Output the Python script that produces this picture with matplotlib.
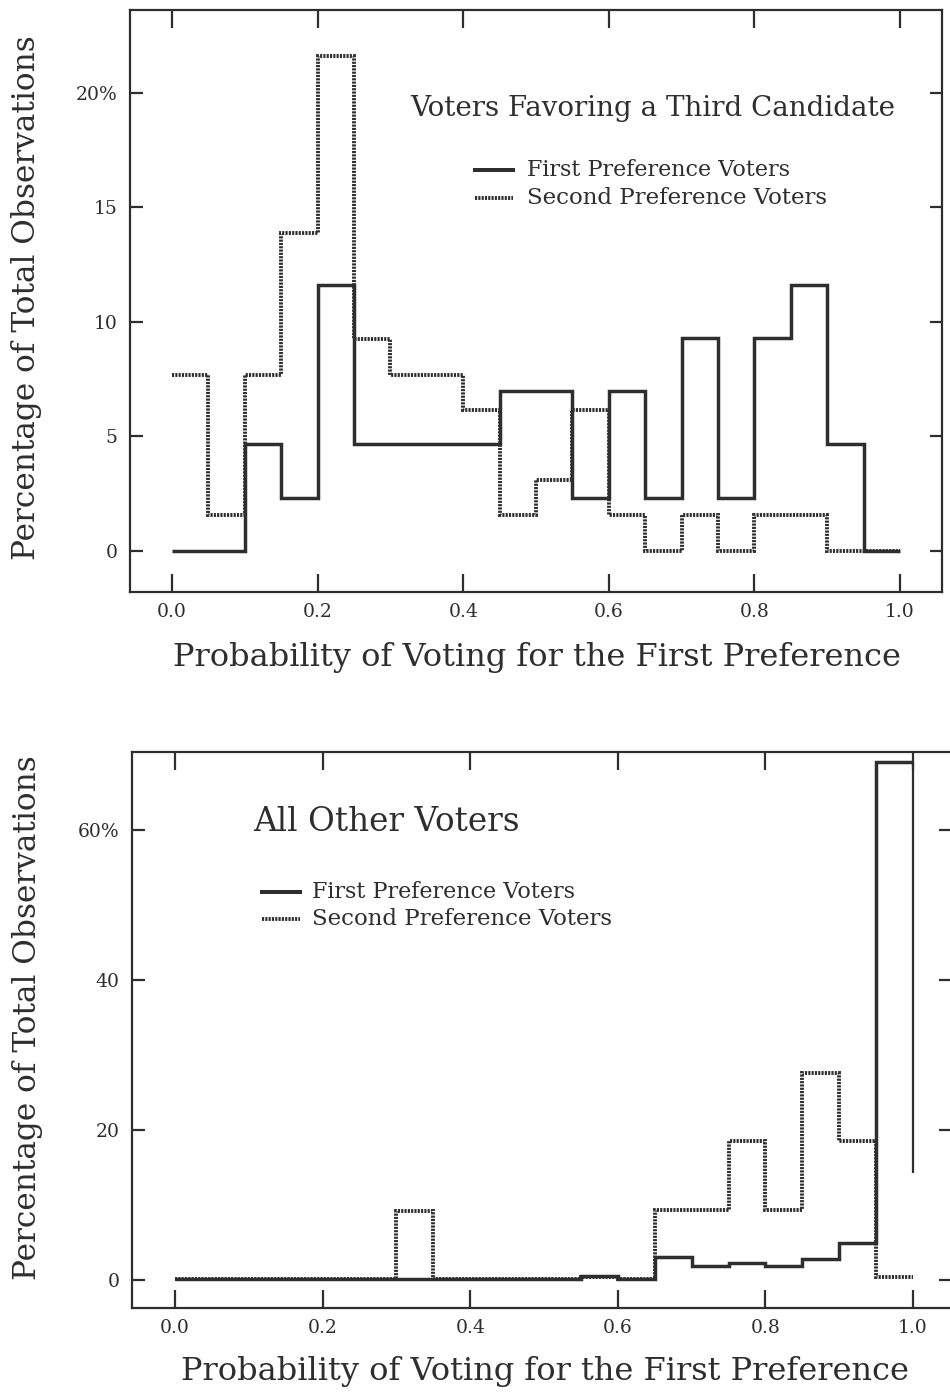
import numpy as np
import matplotlib
matplotlib.use("Agg")
import matplotlib.pyplot as plt
from matplotlib.lines import Line2D

plt.rcParams["font.family"] = ["DejaVu Serif"]

INK = "#2e2e2e"

# Bin edges shared by both histograms (width 0.05)
edges = np.round(np.arange(0, 1.0001, 0.05), 2)

# Upper panel: voters favoring a third candidate (% of observations)
third_first = [0, 0, 4.65, 2.33, 11.6, 4.65, 4.65, 4.65, 4.65, 6.98,
               6.98, 2.33, 6.98, 2.33, 9.3, 2.33, 9.3, 11.6, 4.65, 0]
third_second = [7.7, 1.55, 7.7, 13.9, 21.6, 9.25, 7.7, 7.7, 6.15, 1.55,
                3.1, 6.15, 1.55, 0, 1.55, 0, 1.55, 1.55, 0, 0]

# Lower panel: all other voters
other_first = [0.1, 0.1, 0.1, 0.1, 0.1, 0.1, 0.1, 0.1, 0.1, 0.1,
               0.1, 0.5, 0.1, 3.1, 1.9, 2.3, 1.9, 2.8, 5.0, 69.1]
other_second = [0.1, 0.1, 0.1, 0.1, 0.1, 0.1, 9.25, 0.1, 0.1, 0.1,
                0.1, 0.4, 0.1, 9.3, 9.3, 18.5, 9.3, 27.6, 18.5, 0.4]
other_first_tail_end = 14.3  # closing edge of the last bin stops short

x_ticks = [0.0, 0.2, 0.4, 0.6, 0.8, 1.0]
x_tick_labels = ["0.0", "0.2", "0.4", "0.6", "0.8", "1.0"]
top_y_ticks = [0, 5, 10, 15, 20]
top_y_labels = ["0", "5", "10", "15", "20%"]
bot_y_ticks = [0, 20, 40, 60]
bot_y_labels = ["0", "20", "40", "60%"]

xlabel = "Probability of Voting for the First Preference"
ylabel = "Percentage of Total Observations"
series_names = ["First Preference Voters", "Second Preference Voters"]

W, H = 950, 1392
fig = plt.figure(figsize=(W / 100, H / 100), dpi=100)


def fx(px):
    return px / W


def fy(py):
    return 1 - py / H


def make_axes(l, t, r, b):
    return fig.add_axes([fx(l), fy(b), fx(r) - fx(l), fy(t) - fy(b)])


SOLID_LW = 2.5
DOT_LW = 2.8
DOT_STYLE = (0, (0.55, 0.3))

SOLID_PATCH = dict(edgecolor=INK, lw=SOLID_LW, fill=False, joinstyle="miter")
DOT_PATCH = dict(edgecolor=INK, lw=DOT_LW, fill=False, linestyle=DOT_STYLE,
                 capstyle="butt")
SOLID_LINE = dict(color=INK, lw=SOLID_LW + 0.4)
DOT_LINE = dict(color=INK, lw=DOT_LW, linestyle=DOT_STYLE, dash_capstyle="butt")


def style_axes(ax, xlim, ylim, yticks, ylabels, xlab_pos, ylab_pos):
    ax.set_xlim(*xlim)
    ax.set_ylim(*ylim)
    for s in ax.spines.values():
        s.set_color(INK)
        s.set_linewidth(1.6)
    ax.set_xticks(x_ticks)
    ax.set_xticklabels(x_tick_labels)
    ax.set_yticks(yticks)
    ax.set_yticklabels(ylabels)
    ax.tick_params(axis="x", direction="in", length=13, width=1.6, color=INK,
                   top=True, bottom=True, labelsize=13.5, labelcolor=INK, pad=8)
    ax.tick_params(axis="y", direction="in", length=9, width=1.6, color=INK,
                   left=True, right=True, labelsize=13.5, labelcolor=INK, pad=9)
    ax.set_xlabel(xlabel, fontsize=23, color=INK, va="center", ha="center")
    ax.set_ylabel(ylabel, fontsize=22.5, color=INK, va="center", ha="center")
    ax.xaxis.set_label_coords(*xlab_pos)
    ax.yaxis.set_label_coords(*ylab_pos)


def legend_block(x0, y1, y2, xt):
    fig.add_artist(Line2D([fx(x0), fx(x0 + 38)], [fy(y1), fy(y1)], **SOLID_LINE))
    fig.add_artist(Line2D([fx(x0), fx(x0 + 38)], [fy(y2), fy(y2)], **DOT_LINE))
    fig.text(fx(xt), fy(y1), series_names[0], fontsize=16, color=INK, va="center")
    fig.text(fx(xt), fy(y2), series_names[1], fontsize=16.5, color=INK, va="center")


# ---- upper panel ----
ax1 = make_axes(130, 10, 942, 592)
ax1.stairs(third_second, edges, baseline=None, **DOT_PATCH)
ax1.stairs(third_first, edges, baseline=None, **SOLID_PATCH)
style_axes(ax1, (-0.0577, 1.0577), (-1.79, 23.62), top_y_ticks, top_y_labels,
           (0.501, -0.112), (-0.127, 0.505))
fig.text(fx(410), fy(108), "Voters Favoring a Third Candidate",
         fontsize=20, color=INK, va="center")
legend_block(475, 170, 198, 527)

# ---- lower panel ----
ax2 = make_axes(132, 752, 951, 1308)
ax2.stairs(other_second, edges, baseline=None, **DOT_PATCH)
ax2.stairs(other_first, edges, baseline=None, **SOLID_PATCH)
ax2.vlines(edges[-1], other_first_tail_end, other_first[-1], color=INK, lw=1.6)
style_axes(ax2, (-0.0583, 1.0515), (-3.73, 70.4), bot_y_ticks, bot_y_labels,
           (0.504, -0.115), (-0.128, 0.523))
ax2.spines["right"].set_visible(False)
fig.text(fx(253), fy(822), "All Other Voters", fontsize=23.5, color=INK, va="center")
legend_block(262, 892, 919, 312)

fig.savefig("out.png", dpi=100)
